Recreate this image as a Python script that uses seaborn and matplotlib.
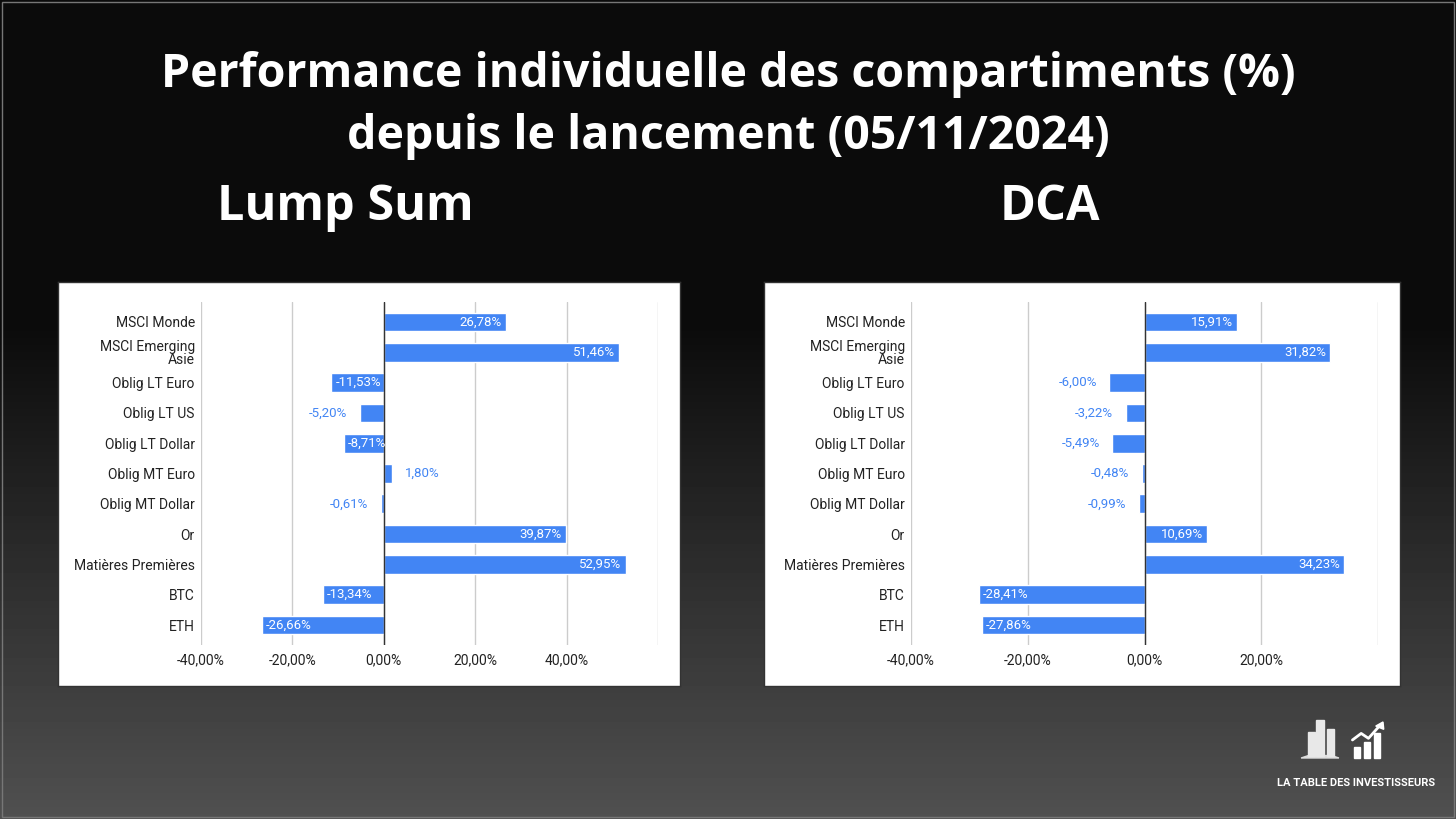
import numpy as np
import matplotlib
matplotlib.use("Agg")
import matplotlib.pyplot as plt
import seaborn as sns
from matplotlib.patches import Rectangle, Polygon

sns.set_theme(style="white")
plt.rcParams['font.family'] = ['Roboto', 'DejaVu Sans']

# ---- data ----
categories = ["MSCI Monde", "MSCI Emerging\nAsie", "Oblig LT Euro", "Oblig LT US",
              "Oblig LT Dollar", "Oblig MT Euro", "Oblig MT Dollar", "Or",
              "Matières Premières", "BTC", "ETH"]
lump_sum = [26.78, 51.46, -11.53, -5.20, -8.71, 1.80, -0.61, 39.87, 52.95, -13.34, -26.66]
dca = [15.91, 31.82, -6.00, -3.22, -5.49, -0.48, -0.99, 10.69, 34.23, -28.41, -27.86]

lump_ticks = [-40, -20, 0, 20, 40, 60]
dca_ticks = [-40, -20, 0, 20, 40]

title_l1 = "Performance individuelle des compartiments (%)"
title_l2 = "depuis le lancement (05/11/2024)"

BLUE = "#4285F4"
W, H = 1456, 819
TITLE_FONT = ["Open Sans", "DejaVu Sans"]

fig = plt.figure(figsize=(W / 100, H / 100), dpi=100)

# gradient background
bg = fig.add_axes([0, 0, 1, 1], zorder=-3)
rows = np.linspace(0, 1, H)
shade = np.where(rows < 0.40, 0.045, 0.045 + (rows - 0.40) / 0.60 * 0.27)
bg.imshow(np.repeat(shade[:, None], 4, axis=1), cmap="gray", vmin=0, vmax=1,
          aspect="auto", extent=[0, 1, 1, 0])
bg.set_axis_off()
fig.add_artist(Rectangle((0.0015, 0.002), 0.997, 0.996, transform=fig.transFigure,
                         fill=False, edgecolor="#777777", lw=1, zorder=5))

fig.text(0.5, 1 - 75 / H, title_l1, ha="center", va="center", color="white",
         fontsize=33.5, fontweight="bold", family=TITLE_FONT)
fig.text(0.5, 1 - 136 / H, title_l2, ha="center", va="center", color="white",
         fontsize=33.5, fontweight="bold", family=TITLE_FONT)
fig.text(345 / W, 1 - 207 / H, "Lump Sum", ha="center", va="center", color="white",
         fontsize=35, fontweight="bold", family=TITLE_FONT)
fig.text(1050 / W, 1 - 207 / H, "DCA", ha="center", va="center", color="white",
         fontsize=35, fontweight="bold", family=TITLE_FONT)


def fmt(v):
    return f"{v:.2f}".replace(".", ",") + "%"


def panel(box_px, ax_px, values, ticks):
    bx0, by0, bx1, by1 = box_px
    box = fig.add_axes([bx0 / W, 1 - by1 / H, (bx1 - bx0) / W, (by1 - by0) / H], zorder=-1)
    box.set_facecolor("white")
    box.set_xticks([])
    box.set_yticks([])
    for s in box.spines.values():
        s.set_color("#333333")
        s.set_linewidth(1)

    x0, y0, x1, y1 = ax_px
    ax = fig.add_axes([x0 / W, 1 - y1 / H, (x1 - x0) / W, (y1 - y0) / H], zorder=1)
    ax.set_facecolor("none")
    sns.barplot(x=values, y=categories, color=BLUE, saturation=1, width=0.62,
                orient="h", ax=ax)
    ax.set_xlim(ticks[0], ticks[-1])
    ax.set_ylim(len(categories) - 1 + 0.66, -0.66)
    ax.set_xticks(ticks)
    labels = [fmt(t) for t in ticks]
    labels[-1] = ""
    ax.set_xticklabels(labels)
    ax.grid(axis="x", color="#cccccc", lw=1)
    ax.grid(axis="y", visible=False)
    ax.set_axisbelow(True)
    ax.axvline(0, color="#333333", lw=1.0, zorder=3)
    for s in ax.spines.values():
        s.set_visible(False)
    ax.tick_params(axis="both", length=0, labelsize=10, colors="#222222")
    ax.tick_params(axis="y", pad=4.5)
    ax.tick_params(axis="x", pad=6)
    for t in ax.get_yticklabels():
        t.set_linespacing(0.9)

    px_per_unit = (x1 - x0) / (ticks[-1] - ticks[0])
    for i, v in enumerate(values):
        if abs(v) * px_per_unit > 38:
            ax.annotate(fmt(v), (v, i), xytext=(-3 if v > 0 else 3, 0),
                        textcoords="offset points", ha="right" if v > 0 else "left",
                        va="center", color="white", fontsize=9.5)
        else:
            ax.annotate(fmt(v), (v, i), xytext=(9 if v > 0 else -9, 0),
                        textcoords="offset points", ha="left" if v > 0 else "right",
                        va="center", color=BLUE, fontsize=9.5)
    return ax


panel((58, 282, 680, 686), (201, 302, 658, 645), lump_sum, lump_ticks)
panel((764, 282, 1400, 686), (911, 302, 1378, 645), dca, dca_ticks)

# logo: building + chart icons and brand text
lx, ly = 1320 / W, 1 - 758 / H
fig.add_artist(Polygon([[lx - 0.013, ly], [lx + 0.013, ly], [lx + 0.008, ly + 0.003], [lx - 0.008, ly + 0.003]],
                       closed=True, transform=fig.transFigure, color="#dddddd", zorder=6))
for dx, hh, ww in [(-0.006, 0.030, 0.005), (0.0, 0.044, 0.006), (0.007, 0.034, 0.005)]:
    fig.add_artist(Rectangle((lx + dx - ww / 2, ly + 0.002), ww, hh, transform=fig.transFigure,
                             color="#e8e8e8", zorder=6))
cx, cy = 1367 / W, 1 - 758 / H
for dx, hh in [(-0.007, 0.014), (0.0, 0.020), (0.007, 0.030)]:
    fig.add_artist(Rectangle((cx + dx - 0.0022, cy), 0.0044, hh, transform=fig.transFigure,
                             color="white", zorder=6))
fig.add_artist(plt.Line2D([cx - 0.010, cx - 0.004, cx + 0.001, cx + 0.009],
                          [cy + 0.022, cy + 0.030, cy + 0.024, cy + 0.040],
                          transform=fig.transFigure, color="white", lw=2, zorder=6))
fig.add_artist(Polygon([[cx + 0.006, cy + 0.039], [cx + 0.011, cy + 0.044], [cx + 0.0115, cy + 0.035]],
                       closed=True, transform=fig.transFigure, color="white", zorder=6))
fig.text(1356 / W, 1 - 783 / H, "LA TABLE DES INVESTISSEURS", ha="center", va="center",
         color="white", fontsize=8, fontweight="bold", fontstretch="condensed",
         family=["Roboto", "DejaVu Sans"])

fig.savefig("out.png", dpi=100)
